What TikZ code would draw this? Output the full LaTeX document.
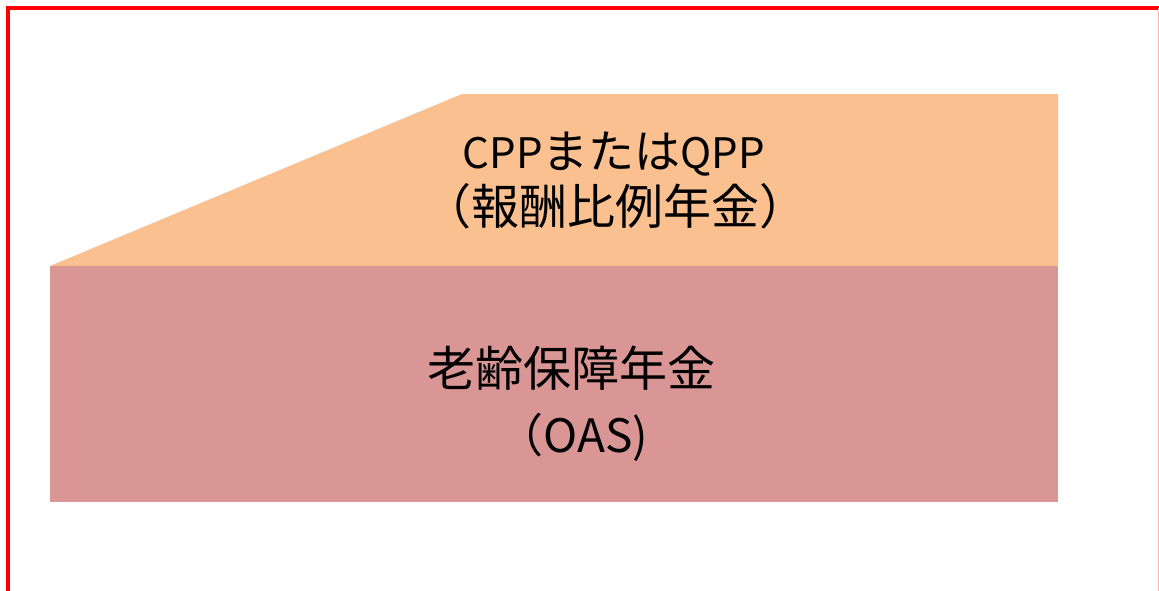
\documentclass[tikz,border=0pt]{standalone}
\usepackage{fontspec}
\setmainfont{Noto Sans CJK JP}
\newfontfamily\haltfont[RawFeature=+halt]{Noto Sans CJK JP}
\definecolor{upperfill}{HTML}{FAC090}
\definecolor{lowerfill}{HTML}{D99694}
\newcommand{\latinpart}[1]{{\fontsize{42}{50}\selectfont #1}}
\begin{document}
\begin{tikzpicture}[x=1pt,y=-1pt,
  lbl/.style={inner sep=0pt, anchor=base, text=black},
  upfont/.style={font=\fontsize{46}{55}\selectfont},
  lowfont/.style={font=\fontsize{48}{55}\selectfont}]
\useasboundingbox (0,0) rectangle (1159,590);
\fill[white] (0,0) rectangle (1159,590);
% frame
\draw[red, line width=4pt] (8,592) -- (8,8) -- (1160,8);
\draw[red!30, line width=1pt] (1158,8) -- (1158,592);
% shapes
\fill[upperfill] (50,266) -- (462,94) -- (1058,94) -- (1058,266) -- cycle;
\fill[lowerfill] (50,266) rectangle (1058,502);
% texts
\node[lbl, upfont] (t1) at (614,168) {\latinpart{CPP}または\latinpart{QPP}};
\node[lbl, font=\fontsize{48}{55}\selectfont] (t2) at (615,224) {\haltfont（報酬比例年金）};
\node[lbl, lowfont] (b1) at (571,386) {老齢保障年金};
\node[lbl, font=\fontsize{46}{55}\selectfont] (b2) at (573,452) {（OAS)};
\end{tikzpicture}
\end{document}
